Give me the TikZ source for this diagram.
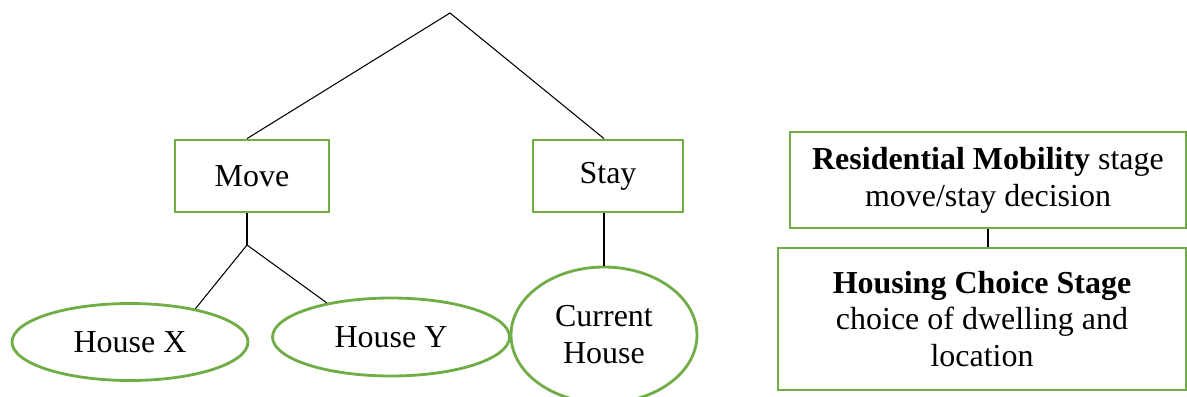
\documentclass[tikz,border=0pt]{standalone}
\usepackage{fontspec}
\setmainfont{Liberation Serif}
\usetikzlibrary{shapes.geometric}
\definecolor{leafgreen}{RGB}{112,173,71}
\begin{document}
\begin{tikzpicture}[x=0.02cm,y=-0.02cm,
		box/.style={draw=leafgreen,line width=1.6pt,inner sep=0pt,align=center,font=\fontsize{18.2}{21}\selectfont},
		oval/.style={ellipse,draw=leafgreen,line width=1.6pt,inner sep=0pt,align=center,font=\fontsize{18.2}{21}\selectfont},
		link/.style={line width=0.6pt}]
	\useasboundingbox (0,0) rectangle (1187,396);
	% decision tree
	\coordinate (top) at (450,13);
	\node[box,minimum width=3.08cm,minimum height=1.44cm] (move) at (252,176) {Move};
	\node[box,minimum width=3.0cm,minimum height=1.44cm] (stay) at (608,176) {Stay};
	\node[oval,minimum width=4.72cm,minimum height=1.54cm] (housex) at (130,342) {House X};
	\node[oval,minimum width=4.74cm,minimum height=1.56cm] (housey) at (391,337) {House Y};
	\node[oval,minimum width=3.72cm,minimum height=2.72cm] (current) at (604,335) {Current\\House};
	\coordinate (fork) at (247,245);
	\draw[link] (fork |- move.north) -- (top) -- (current.north |- stay.north);
	\draw[link] (fork |- move.south) -- (fork);
	\draw[link] (housex.27) -- (fork) -- (housey.152);
	\draw[link] (current.north |- stay.south) -- (current.north);
	% stages
	\node[box,minimum width=7.92cm,minimum height=1.92cm] (mobility) at (988,180) {\textbf{Residential Mobility} stage\\move/stay decision};
	\node[box,minimum width=8.16cm,minimum height=2.84cm] (choice) at (982,319) {\textbf{Housing Choice Stage}\\choice of dwelling and\\location};
	\draw[link] (mobility.south) -- (mobility.south |- choice.north);
\end{tikzpicture}
\end{document}
